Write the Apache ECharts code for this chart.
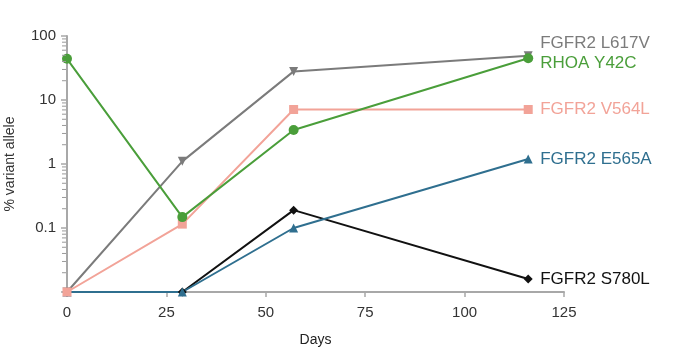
<!DOCTYPE html>
<html>
<head>
<meta charset="utf-8">
<script src="https://cdn.jsdelivr.net/npm/echarts@6/dist/echarts.min.js"></script>
<style>
  html, body { margin: 0; padding: 0; background: #fff; }
  #chart { width: 676px; height: 351px; }
</style>
</head>
<body>
<div id="chart"></div>
<script>
// sampling days
const days = [0, 29, 57, 116]

// % variant allele per mutation
const fgfr2L617V = [0.01, 1.1, 28, 49]
const rhoaY42C = [44, 0.148, 3.4, 45]
const fgfr2V564L = [0.01, 0.115, 7.1, 7.1]
const fgfr2E565A = [0.01, 0.01, 0.1, 1.2]
const fgfr2S780L = [0.01, 0.01, 0.19, 0.016]

const xTicks = [0, 25, 50, 75, 100, 125]

// minor ticks on the log axis (2..9 per decade)
const minorTicks = []
for (const dec of [0.01, 0.1, 1, 10]) {
    for (let m = 2; m <= 9; m++) minorTicks.push(+(m * dec).toPrecision(3))
}

const pair = (ys) => days.map((d, i) => [d, ys[i]])

const font = "Liberation Sans, Arial, sans-serif"
const axisGrey = "#a8a8a8"

function lineSeries(name, ys, color, symbol, size, extra, labelOffset) {
    return Object.assign({
        name: name,
        type: "line",
        data: pair(ys),
        symbol: symbol,
        symbolSize: size,
        lineStyle: { color: color, width: 2 },
        itemStyle: { color: color },
        emphasis: { disabled: true },
        endLabel: {
            show: true,
            formatter: name,
            color: color,
            fontFamily: font,
            fontSize: 17,
            distance: 12,
            offset: labelOffset || [0, 0],
        },
    }, extra || {})
}

const chart = echarts.init(document.getElementById("chart"))
chart.setOption({
    animation: false,
    grid: { left: 67, right: 112, top: 36, bottom: 59, outerBoundsMode: "none", containLabel: false },
    xAxis: {
        type: "value",
        min: 0,
        max: 125,
        interval: 25,
        name: "Days",
        nameLocation: "middle",
        nameGap: 41,
        nameTextStyle: { color: "#222", fontFamily: font, fontSize: 14 },
        axisLine: { lineStyle: { color: axisGrey, width: 2 } },
        axisTick: { length: 5, lineStyle: { color: axisGrey, width: 1.5 } },
        axisLabel: { color: "#333", fontFamily: font, fontSize: 15, margin: 13,
            formatter: (v) => xTicks.includes(v) ? String(v) : "" },
        splitLine: { show: false },
    },
    yAxis: {
        type: "log",
        logBase: 10,
        min: 0.01,
        max: 100,
        name: "% variant allele",
        nameLocation: "middle",
        nameGap: 50,
        nameTextStyle: { color: "#333", fontFamily: font, fontSize: 14 },
        axisLine: { show: true, lineStyle: { color: axisGrey, width: 2 } },
        axisTick: { length: 6, lineStyle: { color: axisGrey, width: 1.5 } },
        axisLabel: { color: "#333", fontFamily: font, fontSize: 15, margin: 11,
            formatter: (v) => v <= 0.011 ? "" : String(+v.toPrecision(2)) },
        splitLine: { show: false },
    },
    series: [
        {
            type: "custom",
            coordinateSystem: "cartesian2d",
            silent: true,
            clip: false,
            z: 10,
            data: minorTicks.map((v) => [0, v]),
            encode: { x: 0, y: 1 },
            renderItem: (params, api) => {
                const p = api.coord([0, api.value(1)])
                return {
                    type: "line",
                    shape: { x1: p[0] - 5, y1: p[1], x2: p[0] - 1, y2: p[1] },
                    style: { stroke: "#999", lineWidth: 1 },
                }
            },
        },
        lineSeries("FGFR2 S780L", fgfr2S780L, "#111111", "diamond", 9),
        lineSeries("FGFR2 E565A", fgfr2E565A, "#2f6f8f", "triangle", 9),
        lineSeries("FGFR2 L617V", fgfr2L617V, "#7b7b7b", "triangle", 9, { symbolRotate: 180 }, [0, -13]),
        lineSeries("FGFR2 V564L", fgfr2V564L, "#f2a398", "rect", 9),
        lineSeries("RHOA Y42C", rhoaY42C, "#4a9e3a", "circle", 10, {}, [0, 5]),
    ],
})
</script>
</body>
</html>
